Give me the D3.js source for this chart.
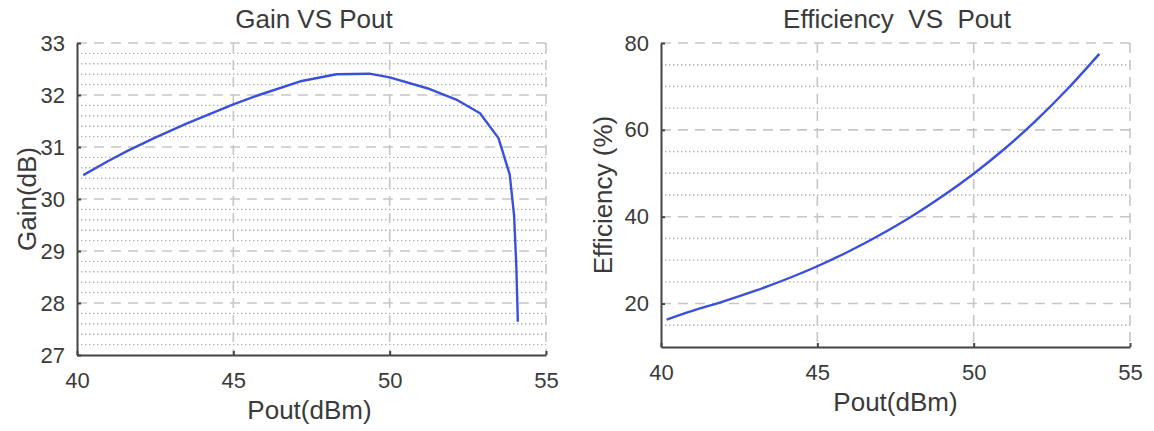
<!DOCTYPE html>
<html>
<head>
<meta charset="utf-8">
<script src="https://cdn.jsdelivr.net/npm/d3@7"></script>
<style>
  html, body { margin: 0; padding: 0; background: #fff; }
  svg { display: block; }
  text { font-family: "Liberation Sans", Arial, sans-serif; fill: #3a3a3a; }
</style>
</head>
<body>
<svg id="chart" width="1154" height="431"></svg>
<script>
// ---- Data ----
const gainPout = [40.2, 41.0, 41.63, 42.5, 43.5, 45.0, 45.82, 47.19, 48.3, 49.35, 50.0, 51.2, 52.17, 52.89, 53.48, 53.84, 53.98, 54.05, 54.1];
const gainDb   = [30.46, 30.73, 30.93, 31.18, 31.45, 31.82, 32.0, 32.27, 32.40, 32.41, 32.34, 32.13, 31.90, 31.65, 31.17, 30.47, 29.68, 28.72, 27.64];

const effPout = [40.18, 41, 42, 43, 44, 45, 46, 47, 48, 49, 50, 51, 52, 53, 54.02];
const effPct  = [16.3, 18.3, 20.5, 22.9, 25.6, 28.6, 32.0, 35.8, 40.0, 44.7, 49.9, 55.7, 62.2, 69.4, 77.5];

const xTicks = [40, 45, 50, 55];
const gainTicks = [27, 28, 29, 30, 31, 32, 33];
const effTicks = [20, 40, 60, 80];

const titles = ["Gain VS Pout", "Efficiency  VS  Pout"];
const xLabel = "Pout(dBm)";
const yLabels = ["Gain(dB)", "Efficiency (%)"];

// ---- Layout ----
const svg = d3.select("#chart");
const panels = [
  { left: 77, right: 546, top: 43, bottom: 355, xDom: [40, 55], yDom: [27, 33],
    yTicks: gainTicks, minorStep: 0.2, xs: gainPout, ys: gainDb, curve: d3.curveLinear,
    title: titles[0], ylab: yLabels[0], titleX: 314, ylabX: 36 },
  { left: 661, right: 1130, top: 43, bottom: 347, xDom: [40, 55], yDom: [10, 80],
    yTicks: effTicks, minorStep: 5, xs: effPout, ys: effPct, curve: d3.curveMonotoneX,
    title: titles[1], ylab: yLabels[1], titleX: 897, ylabX: 612 }
];

panels.forEach(p => {
  const x = d3.scaleLinear().domain(p.xDom).range([p.left, p.right]);
  const y = d3.scaleLinear().domain(p.yDom).range([p.bottom, p.top]);
  const g = svg.append("g");

  // minor horizontal dotted grid
  const minor = d3.range(p.yDom[0], p.yDom[1] + 1e-9, p.minorStep)
    .filter(v => !p.yTicks.some(t => Math.abs(t - v) < 1e-6) && v > p.yDom[0] + 1e-6);
  g.selectAll(".minor").data(minor).enter().append("line")
    .attr("x1", p.left).attr("x2", p.right)
    .attr("y1", d => y(d)).attr("y2", d => y(d))
    .attr("stroke", "#b0b0b0").attr("stroke-width", 1.4)
    .attr("stroke-dasharray", "1.4,2.6");

  // major horizontal dashed grid
  g.selectAll(".majY").data(p.yTicks.filter(t => t > p.yDom[0])).enter().append("line")
    .attr("x1", p.left).attr("x2", p.right)
    .attr("y1", d => y(d)).attr("y2", d => y(d))
    .attr("stroke", "#c6c6c6").attr("stroke-width", 1.6)
    .attr("stroke-dasharray", "10,7");

  // major vertical dashed grid
  g.selectAll(".majX").data(xTicks.filter(t => t > p.xDom[0])).enter().append("line")
    .attr("y1", p.top).attr("y2", p.bottom)
    .attr("x1", d => x(d)).attr("x2", d => x(d))
    .attr("stroke", "#c6c6c6").attr("stroke-width", 1.6)
    .attr("stroke-dasharray", "10,7");

  // data line
  const pts = p.xs.map((v, i) => [v, p.ys[i]]);
  g.append("path").datum(pts)
    .attr("fill", "none").attr("stroke", "#3b50d8").attr("stroke-width", 2.4)
    .attr("stroke-linejoin", "round")
    .attr("d", d3.line().curve(p.curve).x(d => x(d[0])).y(d => y(d[1])));

  // axes
  const ax = g.append("g").attr("transform", `translate(0,${p.bottom})`)
    .call(d3.axisBottom(x).tickValues(xTicks).tickFormat(d3.format("d"))
      .tickSize(-4).tickPadding(17).tickSizeOuter(0));
  const ay = g.append("g").attr("transform", `translate(${p.left},0)`)
    .call(d3.axisLeft(y).tickValues(p.yTicks).tickFormat(d3.format("d"))
      .tickSize(-4).tickPadding(12).tickSizeOuter(0));
  [ax, ay].forEach(a => {
    a.select(".domain").attr("stroke", "#454545").attr("stroke-width", 2);
    a.selectAll(".tick line").attr("stroke", "#454545").attr("stroke-width", 2);
    a.selectAll(".tick text").style("font-size", "22px").attr("fill", "#3a3a3a")
      .style("font-family", "'Liberation Sans', Arial, sans-serif");
  });
  ax.selectAll(".tick text").attr("dy", "0.71em");

  // title
  g.append("text").attr("x", p.titleX).attr("y", 28)
    .attr("text-anchor", "middle").style("font-size", "26px").style("white-space", "pre")
    .attr("xml:space", "preserve")
    .text(p.title);

  // x label
  g.append("text").attr("x", (p.left + p.right) / 2 + (p.left < 100 ? -2 : 0)).attr("y", p.bottom + 64)
    .attr("text-anchor", "middle").style("font-size", "26px")
    .text(xLabel);

  // y label
  g.append("text")
    .attr("transform", `translate(${p.ylabX},${(p.top + p.bottom) / 2}) rotate(-90)`)
    .attr("text-anchor", "middle").style("font-size", "26px")
    .text(p.ylab);
});
</script>
</body>
</html>
